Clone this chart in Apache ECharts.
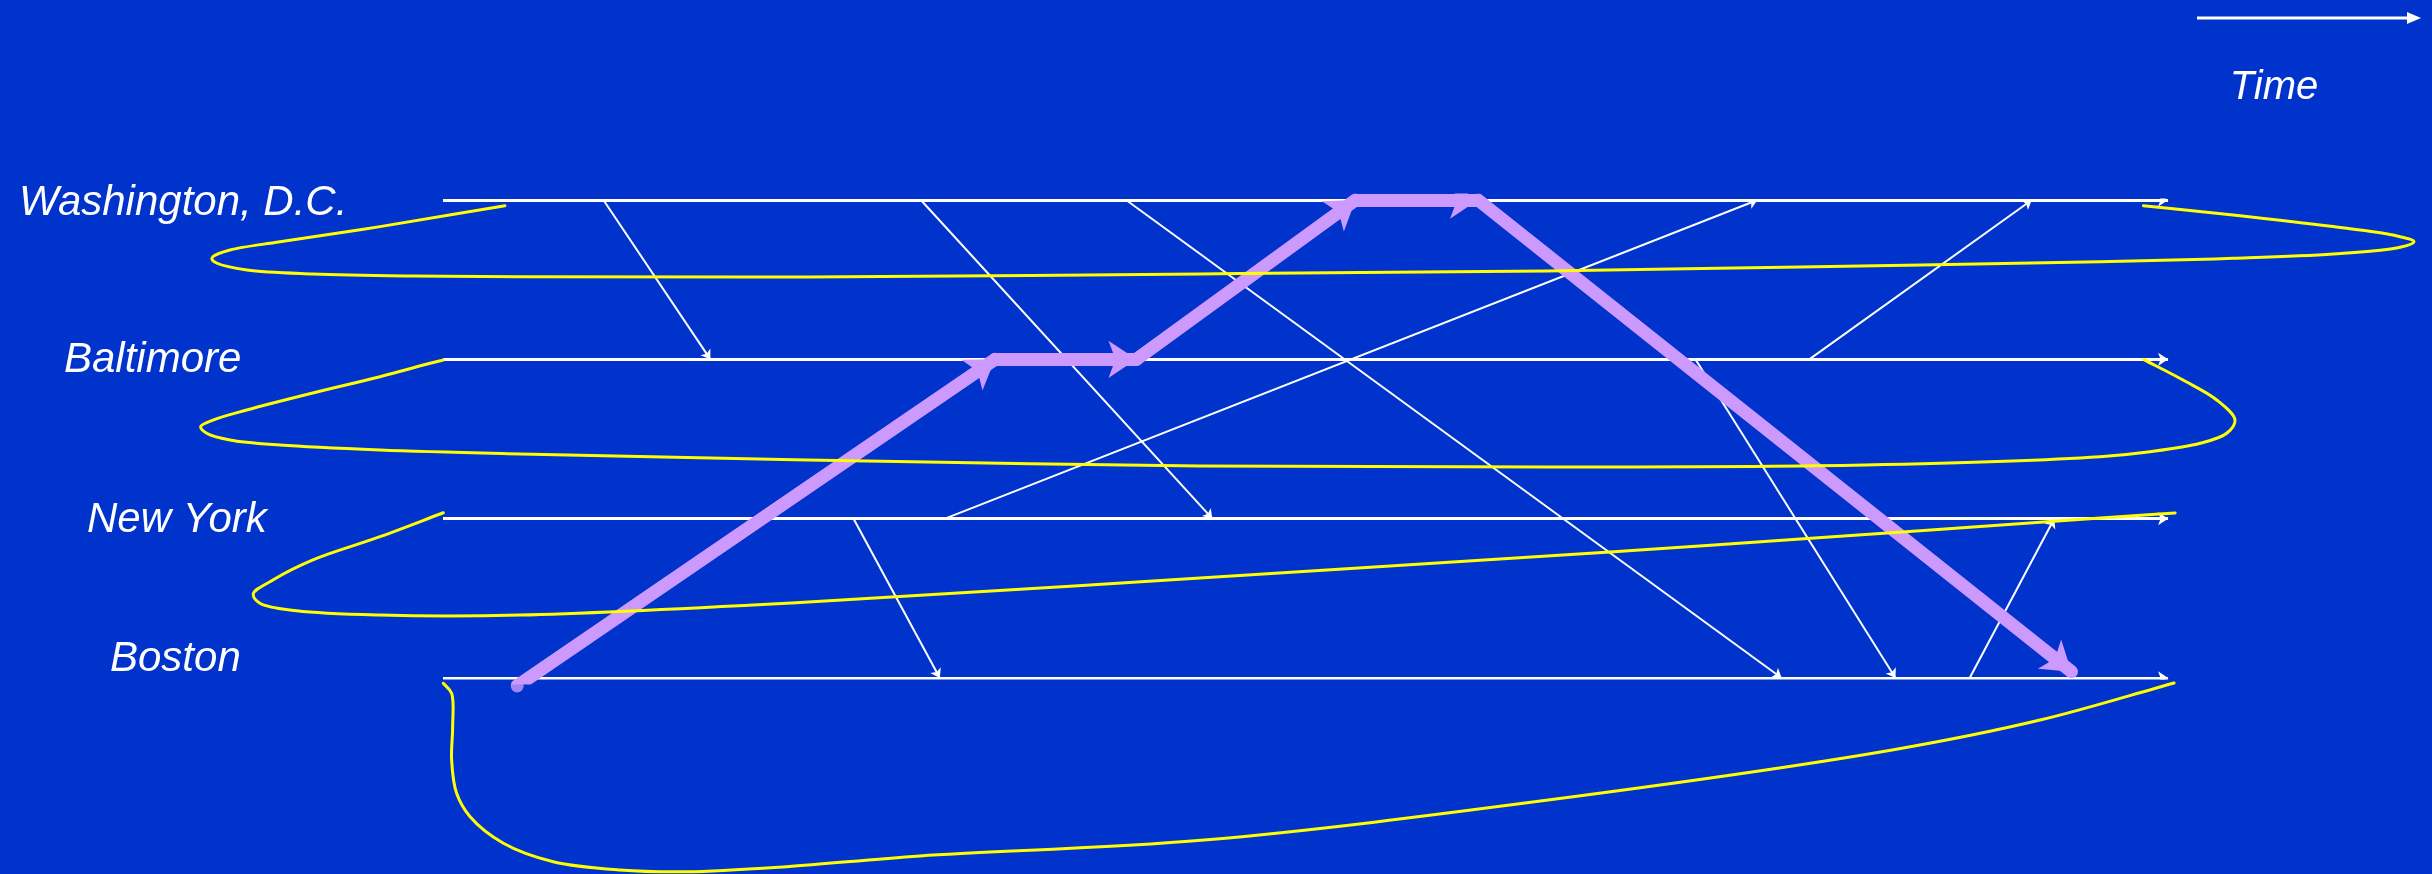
<!DOCTYPE html>
<html>
<head>
<meta charset="utf-8">
<script src="https://cdn.jsdelivr.net/npm/echarts@6/dist/echarts.min.js"></script>
<style>
html,body{margin:0;padding:0;background:#0033CC;}
#chart{width:2432px;height:874px;}
</style>
</head>
<body>
<div id="chart"></div>
<script>
// ---- data ----
const cities = ['Boston', 'New York', 'Baltimore', 'Washington, D.C.']; // y = 0..3
const timeMin = 0, timeMax = 100;          // extent of the process time lines
const viewMin = -25.68, viewMax = 115.3;   // visible time range (loops reach beyond the lines)

// messages: from city index, send time, to city index, receive time
const msgFrom = [3, 3, 3, 1, 2, 2, 1, 0];
const msgSend = [9.3, 27.7, 39.6, 29.1, 79.2, 72.6, 23.8, 88.5];
const msgTo   = [2, 1, 0, 3, 3, 0, 0, 1];
const msgRecv = [15.5, 44.6, 77.6, 76.2, 92.1, 84.2, 28.8, 93.4];

// highlighted causal path (time, city position)
const pathTime = [4.3, 32.0, 40.2, 52.9, 60.0, 94.4];
const pathPos  = [-0.05, 2.0, 2.0, 3.0, 3.0, 0.04];

// hand-drawn yellow loops (time, position)
const washLoop = [[3.59,2.964],[-3.65,2.833],[-9.45,2.738],[-12.35,2.686],[-13.33,2.645],[-13.39,2.627],[-13.1,2.603],[-11.36,2.561],[-7.54,2.536],[-1.74,2.523],[4.46,2.519],[21.16,2.517],[43.88,2.536],[63.94,2.555],[78.67,2.58],[96.06,2.613],[103.77,2.634],[109.57,2.661],[113.45,2.703],[114.26,2.738],[113.04,2.78],[109.57,2.833],[103.77,2.906],[98.57,2.964]];
const baltLoop = [[0.02,1.996],[-0.75,1.975],[-3.65,1.891],[-7.54,1.789],[-11.38,1.682],[-13.33,1.619],[-14.05,1.577],[-13.7,1.536],[-12.35,1.494],[-9.45,1.462],[-3.65,1.431],[4.46,1.406],[21.16,1.368],[43.88,1.331],[63.94,1.324],[82.43,1.337],[96.06,1.389],[98.96,1.42],[101.86,1.473],[103.4,1.536],[103.88,1.619],[102.82,1.745],[100.87,1.87],[98.57,2.0]];
const nyLoop = [[0.02,1.037],[-3.65,0.887],[-7.54,0.741],[-9.86,0.615],[-11.0,0.527],[-10.61,0.469],[-8.48,0.422],[-3.65,0.395],[4.46,0.395],[20.7,0.474],[43.88,0.628],[67.65,0.791],[78.67,0.872],[96.06,1.004],[100.41,1.036]];
const bostonLoop = [[0.02,-0.033],[0.5,-0.096],[0.56,-0.306],[0.5,-0.515],[0.79,-0.724],[1.57,-0.871],[3.5,-1.037],[6.39,-1.153],[10.26,-1.205],[14.13,-1.216],[19.92,-1.184],[27.65,-1.117],[44.12,-1.017],[64.06,-0.766],[84.0,-0.452],[92.58,-0.264],[100.35,-0.031]];

// ---- build ----
const WHITE = '#FFFFFF', YELLOW = '#FFFF00', PURPLE = '#CC99FF';
const FONT = 'Liberation Sans';

const timelineData = cities.map((c, i) => ({coords: [[timeMin, i], [timeMax, i]]}));
const msgData = msgFrom.map((f, i) => ({coords: [[msgSend[i], f], [msgRecv[i], msgTo[i]]]}));
const pathData = [];
for (let i = 0; i < pathTime.length - 1; i++) {
  pathData.push({coords: [[pathTime[i], pathPos[i]], [pathTime[i + 1], pathPos[i + 1]]]});
}

// centripetal Catmull-Rom through screen points -> cubic Bezier path string
function smoothPath(p) {
  const dist = (a, b) => Math.sqrt(Math.hypot(b[0] - a[0], b[1] - a[1]));
  let d = 'M' + p[0][0] + ' ' + p[0][1];
  for (let i = 0; i < p.length - 1; i++) {
    const p0 = p[i - 1] || p[i], p1 = p[i], p2 = p[i + 1], p3 = p[i + 2] || p[i + 1];
    const d1 = dist(p0, p1), d2 = dist(p1, p2), d3 = dist(p2, p3);
    let c1, c2;
    if (d1 < 1e-6) {
      c1 = [p1[0] + (p2[0] - p1[0]) / 3, p1[1] + (p2[1] - p1[1]) / 3];
    } else {
      const a = d1 * d1, b = d2 * d2, den = 3 * d1 * (d1 + d2);
      c1 = [0, 1].map(k => (a * p2[k] - b * p0[k] + (2 * a + 3 * d1 * d2 + b) * p1[k]) / den);
    }
    if (d3 < 1e-6) {
      c2 = [p2[0] - (p2[0] - p1[0]) / 3, p2[1] - (p2[1] - p1[1]) / 3];
    } else {
      const a = d3 * d3, b = d2 * d2, den = 3 * d3 * (d3 + d2);
      c2 = [0, 1].map(k => (a * p1[k] - b * p3[k] + (2 * a + 3 * d3 * d2 + b) * p2[k]) / den);
    }
    d += ' C' + c1[0] + ' ' + c1[1] + ' ' + c2[0] + ' ' + c2[1] + ' ' + p2[0] + ' ' + p2[1];
  }
  return d;
}

function loopSeries(loop) {
  return {
    type: 'custom', data: loop, clip: false, silent: true, z: 5,
    renderItem: function (params, api) {
      if (params.dataIndex !== 0) return null;
      const pts = loop.map(v => api.coord(v));
      return {
        type: 'path',
        shape: {pathData: smoothPath(pts)},
        style: {stroke: YELLOW, lineWidth: 3, fill: null, lineCap: 'round', lineJoin: 'round'}
      };
    }
  };
}

const labelPad = {
  c0: [0, 0, 38, 91],
  c1: [4, 0, 0, 68],
  c2: [2, 0, 0, 45],
  c3: [6, 0, 0, 0]
};
const rich = {};
Object.keys(labelPad).forEach(k => {
  rich[k] = {padding: labelPad[k], fontSize: 42, fontStyle: 'italic', fontFamily: FONT, color: WHITE};
});

const chart = echarts.init(document.getElementById('chart'), null, {renderer: 'canvas'});
chart.setOption({
  backgroundColor: '#0033CC',
  animation: false,
  grid: {left: 0, right: 0, top: 200, bottom: 196},
  xAxis: {type: 'value', min: viewMin, max: viewMax, show: false},
  yAxis: {
    type: 'value', min: 0, max: 3, interval: 1,
    axisLine: {show: false}, axisTick: {show: false}, splitLine: {show: false},
    axisLabel: {
      inside: true, margin: 19, align: 'left',
      formatter: v => (Number.isInteger(v) && cities[v]) ? '{c' + v + '|' + cities[v] + '}' : '',
      rich: rich
    }
  },
  series: [
    {
      type: 'lines', coordinateSystem: 'cartesian2d', data: timelineData,
      symbol: ['none', 'arrow'], symbolSize: 10,
      lineStyle: {color: WHITE, width: 3, opacity: 1}, z: 2, silent: true
    },
    {
      type: 'lines', coordinateSystem: 'cartesian2d', data: msgData,
      symbol: ['none', 'arrow'], symbolSize: 9,
      lineStyle: {color: WHITE, width: 2, opacity: 1}, z: 2, silent: true
    },
    {
      type: 'lines', coordinateSystem: 'cartesian2d', data: pathData,
      symbol: ['none', 'arrow'], symbolSize: [28, 28],
      lineStyle: {color: PURPLE, width: 13, opacity: 1, cap: 'round'}, z: 3, silent: true
    },
    {
      type: 'scatter', data: [[pathTime[0], pathPos[0]]], symbol: 'circle', symbolSize: 13,
      itemStyle: {color: PURPLE}, z: 3, silent: true, clip: false
    },
    loopSeries(washLoop),
    loopSeries(baltLoop),
    loopSeries(nyLoop),
    loopSeries(bostonLoop)
  ],
  graphic: [
    {type: 'line', shape: {x1: 2197, y1: 18, x2: 2410, y2: 18}, style: {stroke: WHITE, lineWidth: 3}},
    {type: 'polygon', shape: {points: [[2407, 12], [2421, 18], [2407, 24]]}, style: {fill: WHITE}},
    {type: 'text', x: 2274, y: 88, style: {text: 'Time', fill: WHITE, font: 'italic 40px "Liberation Sans"', textAlign: 'center', textVerticalAlign: 'middle'}}
  ]
});
</script>
</body>
</html>
